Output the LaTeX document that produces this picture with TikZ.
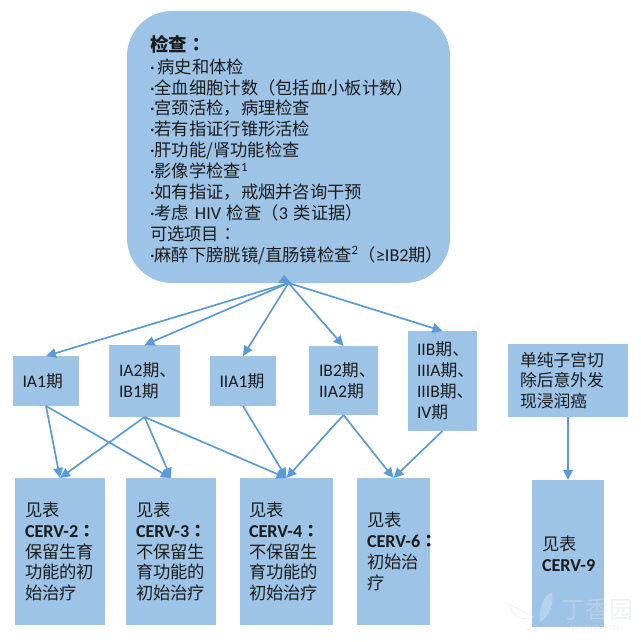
\documentclass[tikz,border=0pt]{standalone}
\usepackage{fontspec}
\setmainfont{Noto Sans CJK SC}
\newfontfamily\latf[Scale=1.05]{Carlito}
\newfontfamily\tcf{Noto Sans CJK TC}
\newcommand{\lat}[1]{{\latf #1}}
\newcommand{\dotm}{{\latf ·}}
\newcommand{\colonm}{{\tcf ：}}
\newcommand{\cerv}[1]{\mbox{\bfseries\lat{#1}}}
\usetikzlibrary{arrows.meta}
\definecolor{boxfill}{HTML}{9DC3E6}
\definecolor{linkc}{HTML}{5B9BD5}
\definecolor{ink}{HTML}{1C1C1C}
\definecolor{markc}{HTML}{D8E0E8}
\tikzset{
  x=1pt,y=-1pt,
  boxs/.style={fill=boxfill,draw=none,inner sep=0pt,outer sep=0pt,align=left,text=ink,
    font=\fontsize{17.3}{20.9}\selectfont},
  midb/.style={boxs,font=\fontsize{16.8}{20.9}\selectfont},
  link/.style={draw=linkc,line width=1.7pt,-{Triangle[length=10pt,width=9.5pt]}},
  markt/.style={text=markc,inner sep=0pt,opacity=.42},
}
\begin{document}
\begin{tikzpicture}
\useasboundingbox (0,0) rectangle (640,642);
\node[boxs,rounded corners=45pt,minimum width=323pt,minimum height=272pt,text width=277pt] (top) at (288.5,147) {%
\rule{0pt}{22pt}{\fontsize{18.5}{21}\selectfont\bfseries 检查\colonm}\\[0.5pt]
\dotm\,病史和体检\\
\dotm 全血细胞计数（包括血小板计数）\\
\dotm 宫颈活检，病理检查\\
\dotm 若有指证行锥形活检\\
\dotm 肝功能/肾功能检查\\
\dotm 影像学检查\textsuperscript{\lat{1}}\\
\dotm 如有指证，戒烟并咨询干预\\
\dotm 考虑 \lat{HIV} 检查（\lat{3} 类证据）\\
可选项目\colonm\\
\dotm 麻醉下膀胱镜/直肠镜检查\textsuperscript{\lat{2}}（\lat{≥IB2}期）};
\node[midb,minimum width=66pt,minimum height=50pt,text width=47pt] (ia1) at (46,381) {\lat{IA1}期};
\node[midb,minimum width=71pt,minimum height=72pt,text width=51pt] (ia2) at (144.5,381) {\lat{IA2}期、\\\lat{IB1}期};
\node[midb,minimum width=66pt,minimum height=50pt,text width=47pt] (iia1) at (243,381) {\lat{IIA1}期};
\node[midb,minimum width=69pt,minimum height=69pt,text width=49pt] (ib2) at (343.5,380.5) {\lat{IB2}期、\\\lat{IIA2}期};
\node[midb,minimum width=69pt,minimum height=100pt,text width=51pt] (iib) at (442.5,381) {\lat{IIB}期、\\\lat{IIIA}期、\\\lat{IIIB}期、\\\lat{IV}期};
\node[midb,minimum width=120pt,minimum height=73pt,text width=96pt] (hyst) at (568,380.5) {单纯子宫切\\除后意外发\\现浸润癌};
\node[boxs,minimum width=90pt,minimum height=147pt,text width=70pt] (c2) at (60,551.5) {见表\\\cerv{CERV-2}{\bfseries\colonm}\\保留生育\\功能的初\\始治疗};
\node[boxs,minimum width=90pt,minimum height=147pt,text width=70pt] (c3) at (171,551.5) {见表\\\cerv{CERV-3}{\bfseries\colonm}\\不保留生\\育功能的\\初始治疗};
\node[boxs,minimum width=93pt,minimum height=147pt,text width=75pt] (c4) at (286.5,551.5) {见表\\\cerv{CERV-4}{\bfseries\colonm}\\不保留生\\育功能的\\初始治疗};
\node[boxs,minimum width=73pt,minimum height=147pt,text width=53pt] (c6) at (393.5,551.5) {见表\\\mbox{\cerv{CERV-6}{\bfseries\colonm}}\\初始治\\疗};
\node[boxs,minimum width=72pt,minimum height=147pt,text width=52pt] (c9) at (568,553.5) {见表\\\cerv{CERV-9}};
\foreach \a/\b in {top/ia1,top/ia2,top/iia1,top/ib2,top/iib,ia1/c2,ia1/c3,ia2/c2,ia2/c3,ia2/c4,iia1/c4,ib2/c4,ib2/c6,iib/c6,hyst/c9}
  \draw[link] (\a.south) -- (\b.north);
\fill[linkc] (284,275) -- (291,283) -- (278,283) -- cycle;
% watermark
\fill[white,opacity=.25] (540,622) .. controls (538,605) and (545,595) .. (552,592) .. controls (554,605) and (550,616) .. (540,622);
\draw[markc,opacity=.5,line width=.7pt] (534,617) .. controls (525,612) and (516,608) .. (509,604) .. controls (510,614) and (520,622) .. (534,617);
\draw[markc,opacity=.5,line width=.7pt] (537,625) .. controls (542,632) and (532,632) .. (526,628);
\node[markt,font=\fontsize{24}{24}\selectfont] (wm) at (597,609) {丁香园};
\node[markt,font=\latf\fontsize{8}{8}\selectfont] (wu) at (595,628) {WWW.DXY.CN};
\end{tikzpicture}
\end{document}
